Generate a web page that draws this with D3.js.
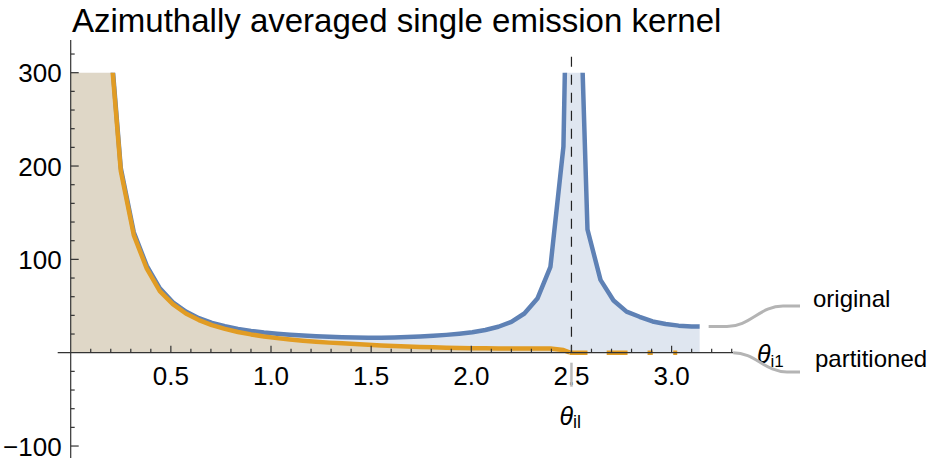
<!DOCTYPE html>
<html><head><meta charset="utf-8">
<script src="https://cdn.jsdelivr.net/npm/d3@7"></script>
<style>body{margin:0;background:#fff}svg{display:block;font-family:"Liberation Sans",Arial,Helvetica,sans-serif}</style>
</head><body><svg id="c" width="928" height="458"></svg>
<script>
// ---- data ----
const theta = [0.0,0.055,0.12,0.185,0.25,0.315,0.38,0.445,0.51,0.575,0.64,0.705,0.77,0.835,0.90,0.965,1.03,1.095,1.16,1.225,1.29,1.355,1.42,1.485,1.55,1.615,1.68,1.745,1.81,1.875,1.94,2.005,2.07,2.135,2.20,2.265,2.33,2.395,2.46,2.49,2.53,2.58,2.645,2.71,2.775,2.84,2.905,2.97,3.035,3.10,3.14];
const original = [9000,3000,900,370,198,129,93,69,54,44,37,32,28.5,25.5,23.3,21.6,20.3,19.3,18.4,17.7,17.1,16.6,16.3,16.1,16.1,16.3,16.7,17.3,18.1,19.1,20.4,22.0,24.3,27.8,33,42,58,92,221,560,480,132,78,56,44,38.5,33.5,30.8,29.0,28.2,28];
const partitioned = [9000,3000,900,365,195,126,90,66,52,42,35,29.5,25.5,22.2,19.6,17.4,15.6,14.1,12.9,11.8,10.8,10.0,9.2,8.5,7.8,7.2,6.7,6.2,5.8,5.4,5.1,4.9,4.7,4.6,4.5,4.5,4.4,4.4,2.8,0.3,null,null,null,null,null,null,null,null,null,null,null];
// partitioned curve beyond theta_il: short pieces lying on zero
const partitionedTail = [[2.49,2.58],[2.676,2.78],[2.88,2.906],[3.008,3.028]];
const xMajorTicks = [0.5,1.0,1.5,2.0,2.5,3.0];
const xTickLabels = ["0.5","1.0","1.5","2.0","2.5","3.0"];
const yMajorTicks = [-100,100,200,300];
const yTickLabels = ["\u2212100","100","200","300"];
const thetaIL = 2.5;
const seriesNames = ["original","partitioned"];
const title = "Azimuthally averaged single emission kernel";

// ---- layout ----
const svg = d3.select("#c");
const x = d3.scaleLinear().domain([0, 3.3]).range([70.7, 731.7]);
const y = d3.scaleLinear().domain([0, 300]).range([352.7, 72.7]);
const blue = "#5E81B5", orange = "#E19C24";

const pts = key => theta.map((t,i)=>({t, v: key[i]}));
const origPts = pts(original), partPts = pts(partitioned);

svg.append("defs").append("clipPath").attr("id","clip")
  .append("rect").attr("x", x(0)).attr("y", y(300)).attr("width", x(3.3)-x(0)).attr("height", 458 - y(300));

const g = svg.append("g").attr("clip-path","url(#clip)");
const area = d3.area().defined(d=>d.v!=null).x(d=>x(d.t)).y0(y(0)).y1(d=>y(d.v));
const line = d3.line().defined(d=>d.v!=null).x(d=>x(d.t)).y(d=>y(d.v));

g.append("path").attr("d", area(origPts)).attr("fill", blue).attr("fill-opacity", 0.2);
g.append("path").attr("d", area(partPts)).attr("fill", orange).attr("fill-opacity", 0.2);
g.append("path").attr("d", line(origPts)).attr("fill","none").attr("stroke", blue).attr("stroke-width", 4.5).attr("stroke-linejoin","round");
g.append("path").attr("d", line(partPts)).attr("fill","none").attr("stroke", orange).attr("stroke-width", 4.5).attr("stroke-linejoin","round");
partitionedTail.forEach(s=>{
  g.append("path").attr("d", line([{t:s[0],v:0},{t:s[1],v:0}])).attr("stroke", orange).attr("stroke-width", 4.5).attr("fill","none");
});

// dashed theta_il line
svg.append("line").attr("x1", x(thetaIL)).attr("x2", x(thetaIL)).attr("y1", y(317)).attr("y2", y(0))
  .attr("stroke","#222").attr("stroke-width",1.2).attr("stroke-dasharray","10,8");

// axes
const ax = svg.append("g").attr("stroke","#333").attr("stroke-width",1.2);
ax.append("line").attr("x1", x(0)-13).attr("x2", x(3.3)+1.5).attr("y1", y(0)).attr("y2", y(0));
ax.append("line").attr("x1", x(0)).attr("x2", x(0)).attr("y1", 40).attr("y2", 458);
d3.range(1,34).forEach(i=>{
  const v=i/10, major = i%5===0;
  ax.append("line").attr("x1", x(v)).attr("x2", x(v)).attr("y1", y(0)).attr("y2", y(0)-(major?7:4));
});
d3.range(-120,321,20).filter(v=>v!==0).forEach(v=>{
  const major = v%100===0;
  ax.append("line").attr("x1", x(0)).attr("x2", x(0)+(major?8:4)).attr("y1", y(v)).attr("y2", y(v));
});

const fs = 26;
svg.append("g").selectAll("text").data(xMajorTicks).join("text")
  .attr("x", d=>x(d)).attr("y", y(0)+32).attr("text-anchor","middle").attr("font-size",fs).attr("fill","#000")
  .text((d,i)=>xTickLabels[i]);
svg.append("g").selectAll("text").data(yMajorTicks).join("text")
  .attr("x", x(0)-9).attr("y", d=>y(d)+9.5).attr("text-anchor","end").attr("font-size",fs).attr("fill","#000")
  .text((d,i)=>yTickLabels[i]);

// gray trace of the marker line through the 2.5 label
svg.append("line").attr("x1", x(thetaIL)).attr("x2", x(thetaIL)).attr("y1", y(0)+10).attr("y2", y(0)+34)
  .attr("stroke","#bbb").attr("stroke-width",2.5);

// theta_il label
const tl = svg.append("text").attr("x", x(thetaIL)-12).attr("y", 425).attr("font-size",25).attr("fill","#000");
tl.append("tspan").attr("font-style","italic").text("\u03B8");
tl.append("tspan").attr("font-size",18).attr("dy",3).text("il");

// theta_i1 axis label
const ta = svg.append("text").attr("x", 757).attr("y", 363).attr("font-size",25).attr("fill","#000");
ta.append("tspan").attr("font-style","italic").text("\u03B8");
ta.append("tspan").attr("font-size",17).attr("dy",4).text("i1");

// title
svg.append("text").attr("x",72).attr("y",32).attr("font-size",33).attr("fill","#000").text(title);

// series labels with leader curves
const lastT = theta[theta.length-1];
const oy = y(original[original.length-1]);
const sx = x(lastT)+9;
const lead = svg.append("g").attr("fill","none").attr("stroke","#b4b4b4").attr("stroke-width",3);
lead.append("path").attr("d", `M${sx},${oy} H727 C750,${oy} 760,306 783,306 H800`);
lead.append("path").attr("d", `M${x(3.3)+1.5},${y(0)} C755,${y(0)} 765,372 787,372 H800`);
svg.append("text").attr("x",813).attr("y",307).attr("font-size",24).attr("fill","#000").text(seriesNames[0]);
svg.append("text").attr("x",815).attr("y",367).attr("font-size",24).attr("fill","#000").text(seriesNames[1]);
</script></body></html>
